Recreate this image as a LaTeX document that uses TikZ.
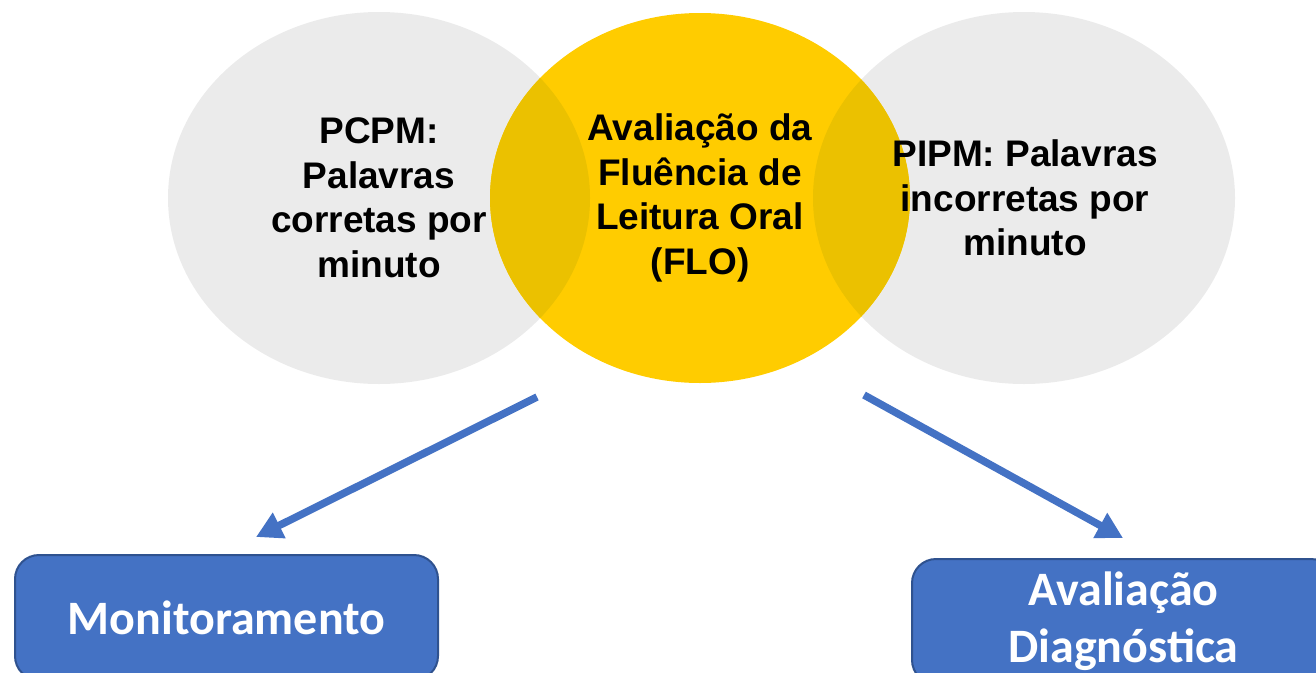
\documentclass[tikz,border=0pt]{standalone}
\usepackage{fontspec}
\setmainfont{Liberation Sans}
\newfontfamily\boxfont{Carlito}
\usetikzlibrary{arrows.meta,positioning,backgrounds}
\definecolor{venngray}{HTML}{EBEBEB}
\definecolor{vennyellow}{HTML}{FFCC00}
\definecolor{vennoverlap}{HTML}{EBC100}
\definecolor{boxblue}{HTML}{4472C4}
\definecolor{boxedge}{HTML}{2F528F}

\begin{document}
\begin{tikzpicture}[x=1pt,y=-1pt,>={Triangle[length=26pt,width=27pt]},
        venntext/.style={align=center,font=\fontsize{37}{44.5}\selectfont\bfseries},
        bluebox/.style={draw=boxedge,line width=2pt,fill=boxblue,rounded corners=24pt,
            minimum width=423pt,minimum height=125pt,text=white,align=center,
            font=\boxfont\fontsize{48}{57}\selectfont\bfseries},
        bluearrow/.style={->,draw=boxblue,line width=7.5pt}]
        \useasboundingbox (0,0) rectangle (1316,672);
        \clip (0,0) rectangle (1316,672);
        % the three circles
        \node[venntext] (FLO) at (700,198) {Avaliação da\\Fluência de\\Leitura Oral\\(FLO)};
        \node[venntext] (PCPM) [left of=FLO, node distance=321pt] {PCPM:\\Palavras\\corretas por\\minuto};
        \node[venntext] (PIPM) [right of=FLO, node distance=325pt] {PIPM: Palavras\\incorretas por\\minuto};
        \begin{scope}[on background layer]
            \fill[venngray] (PCPM.center) ellipse [x radius=211pt, y radius=186pt];
            \fill[venngray] ([xshift=-1pt]PIPM.center) ellipse [x radius=211pt, y radius=186pt];
            \fill[vennyellow] (FLO.center) ellipse [x radius=210pt, y radius=185pt];
            \begin{scope}
                \clip (FLO.center) ellipse [x radius=210pt, y radius=185pt];
                \fill[vennoverlap] (PCPM.center) ellipse [x radius=211pt, y radius=186pt];
                \fill[vennoverlap] ([xshift=-1pt]PIPM.center) ellipse [x radius=211pt, y radius=186pt];
            \end{scope}
        \end{scope}
        % the two uses
        \node[bluebox] (MON) at (226.5,617.5) {Monitoramento};
        \node[bluebox] (AD) at (1123.5,621.5) {Avaliação\\Diagnóstica};
        \coordinate (monFrom) at (537,397);
        \coordinate (monTip) at (256,537);
        \coordinate (adFrom) at (864,395);
        \coordinate (adTip) at (1123,538);
        \draw[bluearrow] (monFrom) -- (monTip);
        \draw[bluearrow] (adFrom) -- (adTip);
    \end{tikzpicture}
\end{document}
